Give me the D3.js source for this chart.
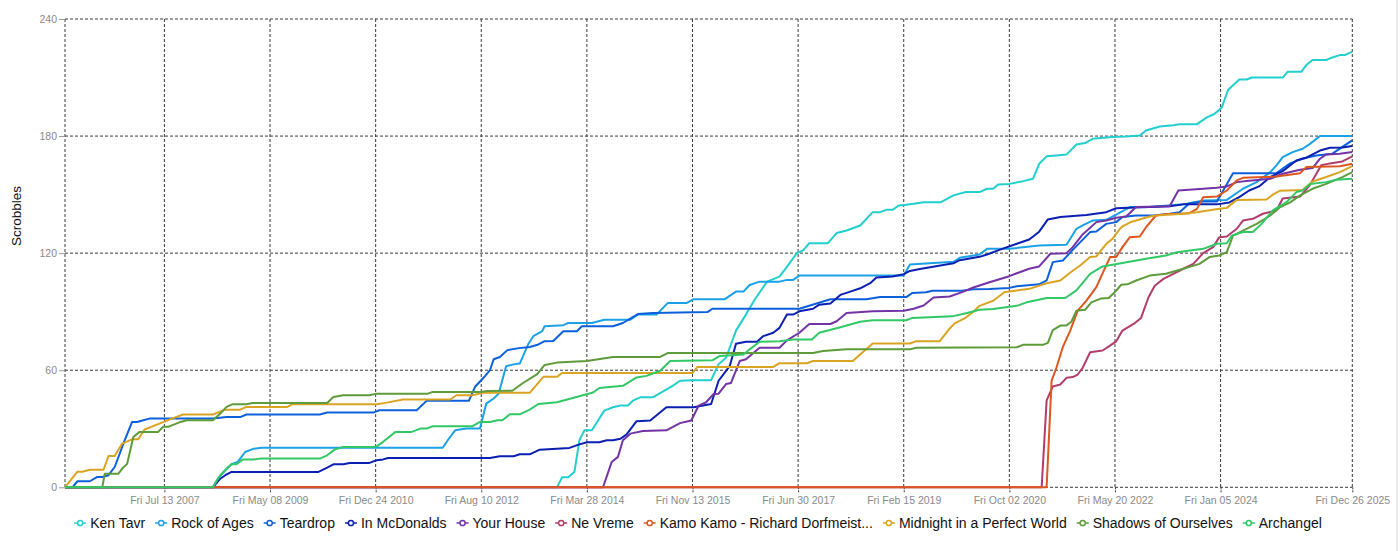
<!DOCTYPE html>
<html>
<head>
<meta charset="utf-8">
<script src="https://cdn.jsdelivr.net/npm/d3@7"></script>
<style>
  html, body { margin: 0; padding: 0; background: #fff; }
  svg { display: block; font-family: "Liberation Sans", Arial, Helvetica, sans-serif; }
</style>
</head>
<body>
<svg id="chart" width="1400" height="551"></svg>
<script>
// cumulative scrobbles per track, x = week index since the first scrobble
var seriesNames = ["Ken Tavr", "Rock of Ages", "Teardrop", "In McDonalds", "Your House", "Ne Vreme",
  "Kamo Kamo - Richard Dorfmeist...", "Midnight in a Perfect World", "Shadows of Ourselves", "Archangel"];
var seriesColors = ["#22cfcf", "#1ba1e6", "#0c60dc", "#0b1fb3", "#7433a6", "#b23c6b",
  "#dc571f", "#d9a422", "#5e9b3a", "#32c866"];

var xTickWeeks = [80, 165, 250, 335, 420, 505, 590, 675, 760, 845, 930, 1036];
var xTickLabels = ["Fri Jul 13 2007", "Fri May 08 2009", "Fri Dec 24 2010", "Fri Aug 10 2012", "Fri Mar 28 2014",
  "Fri Nov 13 2015", "Fri Jun 30 2017", "Fri Feb 15 2019", "Fri Oct 02 2020", "Fri May 20 2022",
  "Fri Jan 05 2024", "Fri Dec 26 2025"];
var yTicks = [0, 60, 120, 180, 240];

var kenTavr = [[0,0],[396,0],[400,5.1],[405,5.1],[410,8],[414,24.1],[418,29.2],[424,29.2],[429,34.2],[434,39.3],[441,41],[447,41.9],[453,41.9],[457,44.4],[463,46.1],[473,46.1],[480,48.6],[489,52],[495,54.6],[506,54.9],[520,54.9],[526,63.1],[532,66.4],[540,80.3],[548,88.5],[555,96.1],[565,105.4],[575,108],[582,113.9],[589,120],[594,121.4],[599,125.1],[614,125.1],[621,130.3],[629,131.6],[640,134.2],[650,141],[656,141],[661,142.2],[666,142.2],[671,144.4],[677,144.8],[683,145.3],[691,146.1],[705,146.1],[715,149.6],[725,151.3],[736,151.3],[742,153],[747,153],[751,155.2],[760,155.5],[771,156.9],[779,158.1],[784,165.8],[790,169.6],[798,170.1],[806,170.5],[814,175.7],[821,176.4],[827,178.6],[843,179.5],[854,179.8],[865,180.3],[870,182.9],[881,184.9],[892,185.5],[897,186.1],[911,186.1],[919,189.6],[925,191.3],[931,194.7],[936,203.6],[945,209],[951,209],[955,210],[980,210],[984,213],[995,213],[999,216.4],[1004,219],[1015,219],[1020,220.3],[1026,221.5],[1030,221.5],[1036,223.3]];
var rockOfAges = [[0,0],[119,0],[123,4.4],[129,8.7],[134,11.8],[139,13],[145,18.1],[152,19.8],[158,20.3],[304,20.3],[308,24.1],[314,29.2],[323,30.1],[334,30.1],[339,42.9],[345,45.5],[349,48],[355,62],[361,63],[366,63.4],[373,73.6],[377,77.5],[384,80],[386,82.5],[401,83.1],[405,84.2],[424,84.2],[434,85.9],[455,85.9],[461,88.5],[476,88.5],[485,94.4],[500,94.4],[506,96.4],[531,96.4],[540,100.3],[546,100.3],[551,103.7],[559,105.4],[575,105.4],[581,106.3],[586,106.3],[591,108.5],[675,108.5],[680,114.2],[715,115.6],[720,117.6],[736,119.3],[742,122.2],[760,122.2],[784,123.9],[806,124.3],[814,132.5],[819,134.2],[827,136.7],[838,137.1],[846,139.8],[857,143.6],[873,143.6],[900,145],[916,147],[935,147.3],[948,153],[959,156.4],[970,161.5],[975,165],[980,169.2],[988,171.8],[996,173.5],[1002,176],[1010,180],[1036,180]];
var teardrop = [[0,0],[6,0],[10,3.1],[20,3.1],[26,5.3],[30,5.3],[35,6.2],[40,10.4],[48,24],[54,33.5],[58,33.5],[63,34.4],[68,35.2],[119,35.2],[130,36],[141,36],[146,37.3],[205,37.3],[211,38.3],[248,38.3],[253,39.5],[283,39.5],[291,44.3],[325,44.3],[330,51.5],[334,54.2],[338,57],[342,60],[345,65.6],[350,66.8],[356,70.3],[364,71.2],[374,71.9],[381,73.2],[386,74.9],[393,75],[401,80],[412,80],[416,82.5],[441,82.5],[449,84.2],[461,88.8],[473,89.3],[517,89.8],[521,91.5],[591,91.5],[616,96.4],[645,96.4],[656,97.5],[677,97.5],[682,99.6],[693,100],[698,100.7],[722,100.7],[731,101.5],[744,101.6],[760,102.2],[766,103],[784,104],[790,106],[795,115.4],[803,116.2],[811,121.7],[825,130.8],[830,131.1],[838,135],[846,135.9],[851,138.5],[862,139.3],[876,139.3],[889,140.2],[897,141],[905,145.6],[916,146.5],[927,146.5],[932,152],[940,161],[975,161],[986,166],[996,168.5],[1007,170],[1020,171],[1028,174.5],[1036,177.8]];
var inMcDonalds = [[0,0],[119,0],[125,4.4],[129,6.2],[134,7.9],[204,7.9],[211,10.1],[216,11.8],[224,11.8],[229,12.5],[245,12.5],[251,13.9],[256,14.3],[260,15],[342,15],[350,15.9],[361,15.9],[366,16.9],[374,16.9],[382,19.3],[406,20.2],[414,22],[420,23.1],[430,23.1],[436,24.1],[441,24.1],[447,24.9],[452,27.1],[460,33.9],[471,34.2],[484,41],[506,41],[520,42.7],[526,54.6],[535,62.2],[540,73.6],[548,74.6],[557,74.6],[562,77.5],[570,79.2],[575,81.7],[581,88.5],[586,88.5],[591,90.2],[602,91.5],[607,93.6],[616,94.2],[624,98.6],[632,100.3],[640,102],[648,104.6],[653,107.5],[666,108],[675,109.2],[680,110.9],[688,111.9],[715,114.8],[720,116.4],[736,118.1],[742,119.3],[752,121.7],[766,124.8],[776,127],[784,131],[791,137.3],[801,138.5],[822,139.5],[838,141],[846,143],[873,143.6],[889,144],[900,145],[927,145],[937,146],[945,148.7],[953,152.1],[961,154.2],[970,159],[980,162],[991,167.5],[999,168.9],[1010,172.6],[1018,174],[1028,174.2],[1036,174.9]];
var yourHouse = [[0,0],[433,0],[440,13],[445,15.6],[449,24.1],[455,27.5],[465,28.8],[484,29.2],[495,32.9],[504,34.2],[510,41.9],[516,43.6],[522,47.8],[526,48],[532,52.9],[536,53.5],[543,64.7],[548,65.6],[559,71.5],[575,71.5],[581,75.3],[591,79.2],[599,83.7],[616,83.7],[621,85.1],[629,89.3],[650,90.2],[675,90.5],[683,91.5],[691,93.2],[699,97.3],[712,97.8],[722,100],[731,102.4],[736,103.4],[744,105.1],[760,108.2],[766,109.7],[776,112],[784,113.2],[793,119.7],[806,120],[811,123.1],[819,129.6],[830,135.9],[838,136.7],[846,138.1],[854,138.8],[862,143.6],[889,144],[896,152.1],[916,153],[927,153.5],[935,154.2],[943,156.4],[951,157],[970,158.1],[980,160.7],[994,162.7],[1004,163.6],[1010,168.4],[1015,170.6],[1026,170.9],[1036,171.8]];
var neVreme = [[0,0],[786,0],[790,44.5],[795,51.7],[801,52.7],[806,56.1],[811,56.5],[815,57.8],[819,61.2],[825,69.2],[835,70.1],[841,72.6],[846,74.8],[851,80.3],[860,83.7],[866,86.8],[872,97.4],[877,103.3],[884,106.8],[892,109.4],[900,112],[908,114.5],[916,120],[924,123.1],[929,128.2],[935,128.5],[943,132.5],[948,136.7],[956,137.6],[964,140.2],[975,141.9],[980,148],[994,149],[1002,155],[1011,165],[1018,166],[1028,167],[1036,169.6]];
var kamoKamo = [[0,0],[790,0],[794,54.7],[798,61.5],[803,71.8],[809,80.3],[815,90.5],[822,95.7],[830,102.6],[841,118],[846,118],[851,123.1],[857,128.2],[865,128.5],[870,133.3],[878,139.3],[886,140],[905,140.5],[911,142.7],[916,148.7],[927,149],[935,152.1],[943,157.3],[948,158.6],[975,159.3],[994,161],[999,164.1],[1026,164.5],[1036,165.8]];
var midnight = [[0,0],[10,8],[14,8],[20,9],[31,9],[35,16],[40,16],[46,22.4],[54,24.6],[59,24.6],[64,29.6],[76,32.6],[86,35.2],[95,37.3],[119,37.3],[129,39.8],[141,39.8],[146,41.2],[179,41.2],[183,42.6],[251,42.6],[259,43.4],[272,45],[310,45],[315,47.2],[328,47.2],[336,48.4],[374,48.4],[385,56.6],[396,56.6],[400,58.6],[505,58.6],[509,61.7],[570,61.7],[575,63.6],[597,63.6],[602,64.7],[634,64.7],[650,73.7],[680,73.7],[685,74.9],[704,74.9],[712,81.4],[716,84],[725,87],[731,90],[736,93],[747,95.6],[756,100],[766,100.8],[776,101.7],[790,104.6],[801,106],[811,111],[817,113.7],[825,118],[830,118.3],[838,124.8],[843,127.3],[849,132.5],[851,133.7],[858,136],[873,138.8],[878,139.3],[900,140.2],[911,141],[929,142.7],[935,143.2],[943,147.3],[967,147.5],[972,150],[978,152],[996,152.4],[1004,156.7],[1015,159],[1026,161.5],[1036,164.6]];
var shadows = [[0,0],[30,0],[32,7],[43,7],[46,9.6],[50,12],[55,25.8],[60,28.4],[75,28.4],[79,31],[83,31],[93,33.5],[98,34.4],[119,34.4],[125,37.8],[130,41.2],[135,42.6],[146,42.6],[151,43.2],[211,43.2],[216,46.3],[224,47.2],[245,47.2],[251,48],[292,48],[296,48.9],[334,48.9],[340,49.4],[360,49.5],[368,53.2],[380,58],[386,62.7],[396,63.9],[420,64.7],[441,66.8],[479,66.8],[485,68.8],[602,68.8],[610,69.8],[629,70.7],[680,70.7],[685,71.5],[766,71.8],[771,73],[787,73],[791,74],[795,80.6],[801,82.9],[806,82.9],[810,85],[814,90.5],[821,91],[826,94.8],[834,96.8],[840,97],[846,100.8],[850,103.8],[855,104],[862,106],[873,108.5],[886,109.4],[900,112],[913,114.5],[921,118],[929,118.8],[935,120.5],[940,129],[948,131.6],[959,135],[970,139.3],[978,143.6],[986,146],[994,149.6],[1004,153],[1015,155.5],[1028,159],[1036,161.5]];
var archangel = [[0,0],[119,0],[125,6.2],[130,9.6],[134,11.8],[138,11.8],[143,14.2],[151,14.2],[157,14.7],[205,14.7],[211,16.4],[217,19.3],[224,20.7],[248,20.7],[251,21],[256,23.3],[266,28.4],[279,28.4],[286,30.1],[291,30.1],[296,31.3],[328,31.3],[334,33.5],[342,33.5],[348,34.4],[352,34.4],[358,37.4],[366,37.4],[374,39.8],[381,42.7],[396,43.6],[425,48.6],[430,50.9],[449,52],[460,56.3],[468,57.1],[479,59.7],[487,64.7],[521,65.1],[527,67.3],[546,68.1],[551,70.7],[559,74.6],[575,74.9],[586,75.8],[601,75.8],[607,79.2],[624,82],[640,84.8],[650,85.6],[677,85.6],[682,86.8],[714,87.6],[726,89.3],[736,91],[747,91.4],[766,93],[774,94.8],[790,97],[805,97],[814,100.9],[825,109.4],[835,113.2],[851,114.9],[870,117.1],[886,118.8],[895,120.5],[916,122.2],[927,124.8],[935,125.1],[939,129],[948,130.8],[956,130.8],[963,135],[972,141.9],[983,146.1],[991,151.3],[996,152.1],[1002,155.5],[1015,156.4],[1023,157.6],[1036,158.1]];

var seriesValues = [kenTavr, rockOfAges, teardrop, inMcDonalds, yourHouse, neVreme, kamoKamo, midnight, shadows, archangel];

var svg = d3.select("#chart");
var margin = { top: 19, right: 47.7, bottom: 63.7, left: 65 };
var width = 1400 - margin.left - margin.right;
var height = 551 - margin.top - margin.bottom;

var x = d3.scaleLinear().domain([0, 1036]).range([0, width]);
var y = d3.scaleLinear().domain([0, 240]).range([height, 0]);

// faint page border on the right
svg.append("line")
  .attr("x1", 1397).attr("x2", 1397).attr("y1", 0).attr("y2", 551)
  .attr("stroke", "#d8d8d8").attr("stroke-width", 1);

var g = svg.append("g").attr("transform", "translate(" + margin.left + "," + margin.top + ")");

// grid
var grid = g.append("g").attr("stroke", "#3a3a3a").attr("stroke-width", 1).attr("stroke-dasharray", "3,2");
grid.selectAll("line.h").data(yTicks).enter().append("line")
  .attr("x1", 0).attr("x2", width)
  .attr("y1", (d) => y(d)).attr("y2", (d) => y(d));
grid.selectAll("line.v").data([0].concat(xTickWeeks)).enter().append("line")
  .attr("x1", (d) => x(d)).attr("x2", (d) => x(d))
  .attr("y1", 0).attr("y2", height);

// axes
var yAxis = g.append("g").call(d3.axisLeft(y).tickValues(yTicks).tickSize(6).tickPadding(2));
yAxis.select(".domain").remove();
yAxis.selectAll(".tick line").attr("stroke", "#9a9a9a");
yAxis.selectAll(".tick text").attr("fill", "#8a8a8a").style("font-size", "10.5px")
  .style("font-family", '"Liberation Sans", Arial, sans-serif');

var xAxis = g.append("g").attr("transform", "translate(0," + height + ")")
  .call(d3.axisBottom(x).tickValues(xTickWeeks).tickSize(5).tickPadding(4)
    .tickFormat((d, i) => xTickLabels[i]));
xAxis.select(".domain").remove();
xAxis.selectAll(".tick line").attr("stroke", "#3a3a3a").attr("stroke-dasharray", "2,1");
xAxis.selectAll(".tick text").attr("fill", "#8a8a8a").style("font-size", "10.5px")
  .style("font-family", '"Liberation Sans", Arial, sans-serif');

svg.append("text")
  .attr("transform", "translate(17,216) rotate(-90)")
  .attr("text-anchor", "middle")
  .attr("dominant-baseline", "middle")
  .style("font-size", "13.5px")
  .attr("fill", "#111")
  .text("Scrobbles");

// lines
var line = d3.line()
  .x((d) => x(d[0]))
  .y((d) => y(d[1]));

g.append("g").selectAll("path").data(seriesValues).enter().append("path")
  .attr("fill", "none")
  .attr("stroke", (d, i) => seriesColors[i])
  .attr("stroke-width", 2)
  .attr("stroke-linejoin", "round")
  .attr("d", line);

// legend
var legend = svg.append("g").attr("transform", "translate(0,523)");
var cursor = 0;
seriesNames.forEach(function (name, i) {
  var item = legend.append("g").attr("transform", "translate(" + cursor + ",0)");
  item.append("line").attr("x1", 0).attr("x2", 12).attr("y1", 0).attr("y2", 0)
    .attr("stroke", seriesColors[i]).attr("stroke-width", 1.5);
  item.append("circle").attr("cx", 6).attr("cy", 0).attr("r", 2.6)
    .attr("fill", "#fff").attr("stroke", seriesColors[i]).attr("stroke-width", 1.5);
  var t = item.append("text").attr("x", 16).attr("y", 0)
    .attr("dominant-baseline", "central")
    .style("font-size", "14px").attr("fill", "#111").text(name);
  cursor += 16 + t.node().getComputedTextLength() + 10;
});
var legendWidth = cursor - 10;
legend.attr("transform", "translate(" + (698 - legendWidth / 2) + ",523)");
</script>
</body>
</html>
